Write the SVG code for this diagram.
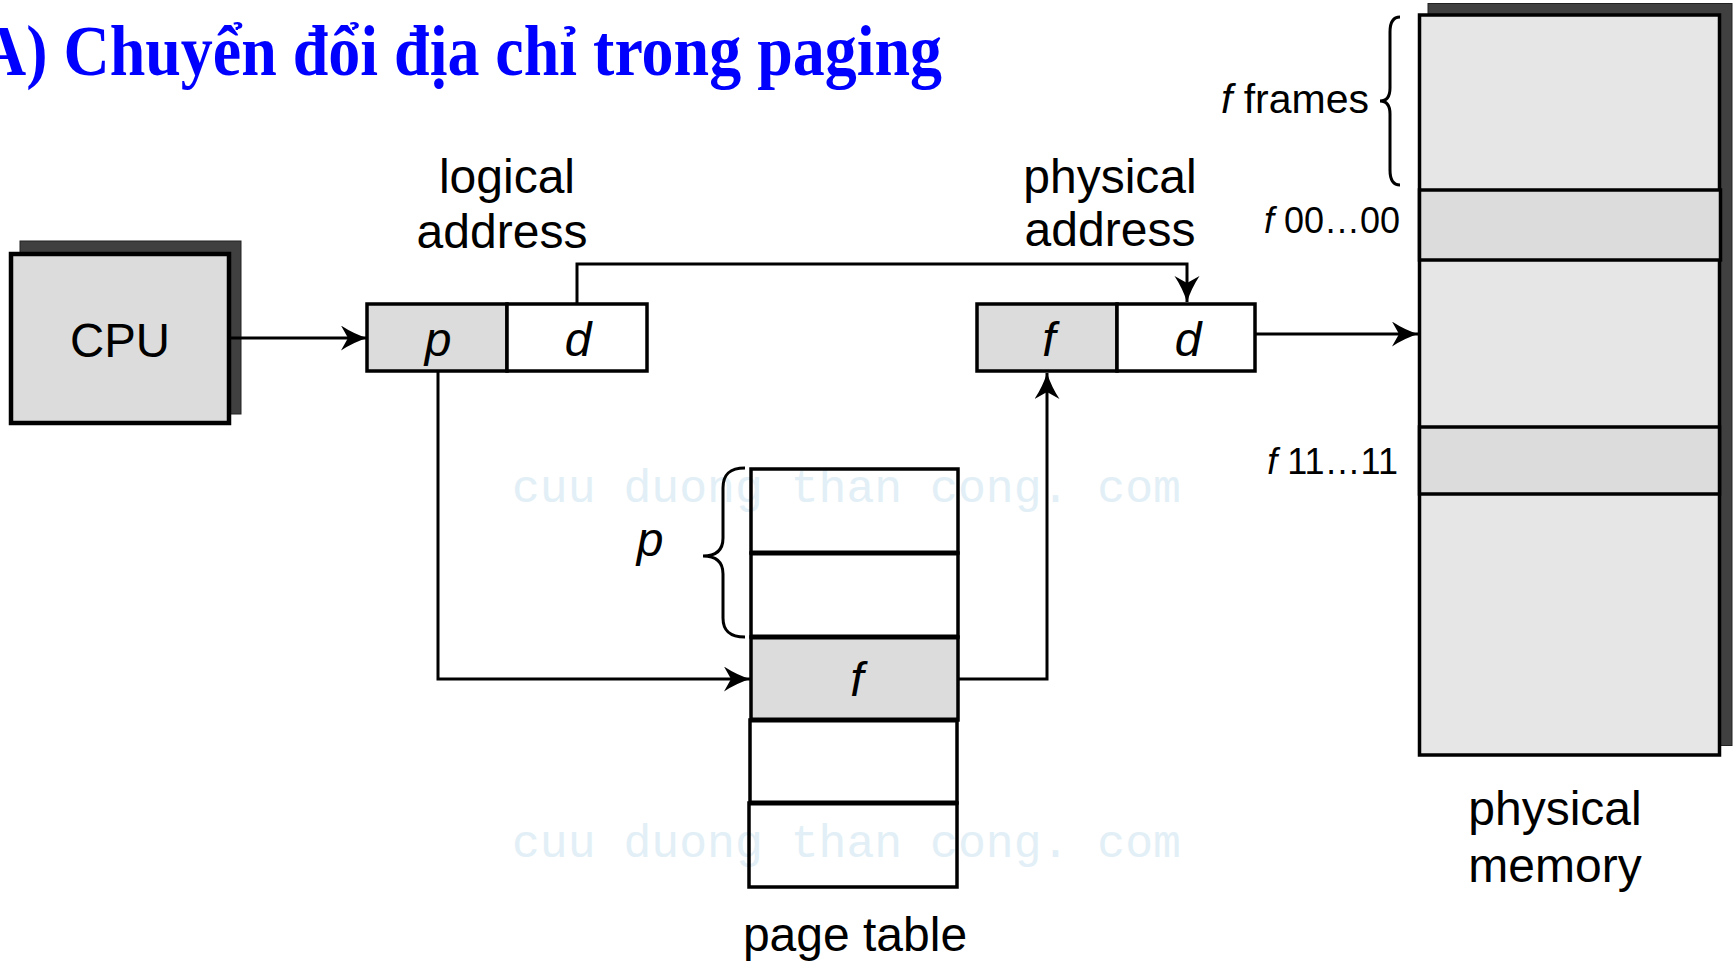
<svg xmlns="http://www.w3.org/2000/svg" width="1735" height="962" viewBox="0 0 1735 962">
  <style>
    .lbl { font-family: "Liberation Sans", Arial, sans-serif; font-size: 48px; fill: #000; }
    .var { font-family: "Liberation Sans", Arial, sans-serif; font-size: 48px; font-style: italic; fill: #000; }
    .small { font-family: "Liberation Sans", Arial, sans-serif; fill: #000; }
    .box { stroke: #000; stroke-width: 3.5; }
    .gray { fill: #dcdcdc; }
    .white { fill: none; }
    .shadow { fill: #404040; stroke: #222; stroke-width: 1; }
    .conn { fill: none; stroke: #000; stroke-width: 3; }
    .wm { font-family: "Liberation Mono", "DejaVu Sans Mono", monospace; font-size: 46px; fill: #e2eff6; }
  </style>
  <defs>
    <marker id="arrow" markerUnits="userSpaceOnUse" markerWidth="27" markerHeight="26" refX="26" refY="12.5" orient="auto">
      <path d="M0,0 Q12,8 26,12.5 Q12,17 0,25 L7,12.5 Z" fill="#000"/>
    </marker>
  </defs>
  <rect width="1735" height="962" fill="#fff"/>

  <g id="watermark">
    <text class="wm" x="512" y="502" textLength="669" lengthAdjust="spacingAndGlyphs">cuu duong than cong. com</text>
    <text class="wm" x="512" y="857" textLength="669" lengthAdjust="spacingAndGlyphs">cuu duong than cong. com</text>
  </g>

  <g id="title">
    <text x="-20" y="75" font-family="'Liberation Serif', 'Times New Roman', serif" font-weight="bold" font-size="72" fill="#0000ff" textLength="962" lengthAdjust="spacingAndGlyphs">A) Chuyển đổi địa chỉ trong paging</text>
  </g>

  <g id="cpu">
    <rect class="shadow" x="20" y="241" width="221" height="173"/>
    <rect class="gray" x="11" y="254" width="218" height="169" stroke="#000" stroke-width="4.5"/>
    <text class="lbl" x="120" y="357" text-anchor="middle" font-size="49" textLength="100" lengthAdjust="spacingAndGlyphs">CPU</text>
  </g>

  <g id="logical-address">
    <text class="lbl" x="507" y="193" text-anchor="middle">logical</text>
    <text class="lbl" x="502" y="248" text-anchor="middle">address</text>
    <rect class="box gray" x="367" y="304" width="140" height="67"/>
    <rect class="box" fill="#fff" x="507" y="304" width="140" height="67"/>
    <text class="var" x="438" y="356" text-anchor="middle">p</text>
    <text class="var" x="578" y="356" text-anchor="middle">d</text>
  </g>

  <g id="physical-address">
    <text class="lbl" x="1110" y="193" text-anchor="middle">physical</text>
    <text class="lbl" x="1110" y="246" text-anchor="middle">address</text>
    <rect class="box gray" x="977" y="304" width="140" height="67"/>
    <rect class="box" fill="#fff" x="1117" y="304" width="138" height="67"/>
    <text class="var" x="1049" y="356" text-anchor="middle">f</text>
    <text class="var" x="1188" y="356" text-anchor="middle">d</text>
  </g>

  <g id="page-table">
    <rect class="box white" x="751" y="469" width="207" height="84"/>
    <rect class="box white" x="751" y="553" width="207" height="84"/>
    <rect class="box gray" x="751" y="637" width="207" height="83"/>
    <rect class="box white" x="750" y="720" width="207" height="83"/>
    <rect class="box white" x="749" y="803" width="208" height="84"/>
    <g stroke="#000" stroke-width="5">
      <line x1="751" y1="553" x2="958" y2="553"/>
      <line x1="751" y1="637" x2="958" y2="637"/>
      <line x1="750" y1="720" x2="958" y2="720"/>
      <line x1="749" y1="803" x2="957" y2="803"/>
    </g>
    <text class="var" x="857" y="696" text-anchor="middle">f</text>
    <path class="conn" d="M745,468 C730,468 723,474 723,488 L723,538 C723,550 716,556 703,556 C716,556 723,562 723,574 L723,618 C723,631 730,637 745,637"/>
    <text class="var" x="650" y="556" text-anchor="middle">p</text>
    <text class="lbl" x="855" y="951" text-anchor="middle">page table</text>
  </g>

  <g id="physical-memory">
    <rect class="shadow" x="1428" y="3.5" width="304" height="742"/>
    <rect x="1419.5" y="15" width="300" height="740" fill="#e6e6e6" stroke="#000" stroke-width="3.5"/>
    <rect x="1419.5" y="190" width="301" height="70" fill="#dcdcdc" stroke="#000" stroke-width="3.5"/>
    <rect x="1419.5" y="427" width="300" height="67" fill="#dcdcdc" stroke="#000" stroke-width="3.5"/>
    <path class="conn" d="M1400,17 C1393,17 1390,22 1390,32 L1390,88 C1390,96 1387,101 1380,101 C1387,101 1390,106 1390,114 L1390,170 C1390,180 1393,185 1400,185"/>
    <text class="small" x="1369" y="113" text-anchor="end" font-size="41"><tspan font-style="italic">f</tspan> frames</text>
    <text class="small" x="1400" y="233" text-anchor="end" font-size="36"><tspan font-style="italic">f</tspan> 00…00</text>
    <text class="small" x="1398" y="474" text-anchor="end" font-size="36"><tspan font-style="italic">f</tspan> 11…11</text>
    <text class="lbl" x="1555" y="825" text-anchor="middle">physical</text>
    <text class="lbl" x="1555" y="882" text-anchor="middle">memory</text>
  </g>

  <g id="connectors">
    <line class="conn" x1="229" y1="338" x2="367" y2="338" marker-end="url(#arrow)"/>
    <polyline class="conn" points="577,304 577,264 1187,264 1187,302" marker-end="url(#arrow)"/>
    <line class="conn" x1="1255" y1="334" x2="1418" y2="334" marker-end="url(#arrow)"/>
    <polyline class="conn" points="438,371 438,679 750,679" marker-end="url(#arrow)"/>
    <polyline class="conn" points="958,679 1047,679 1047,373" marker-end="url(#arrow)"/>
  </g>
</svg>
